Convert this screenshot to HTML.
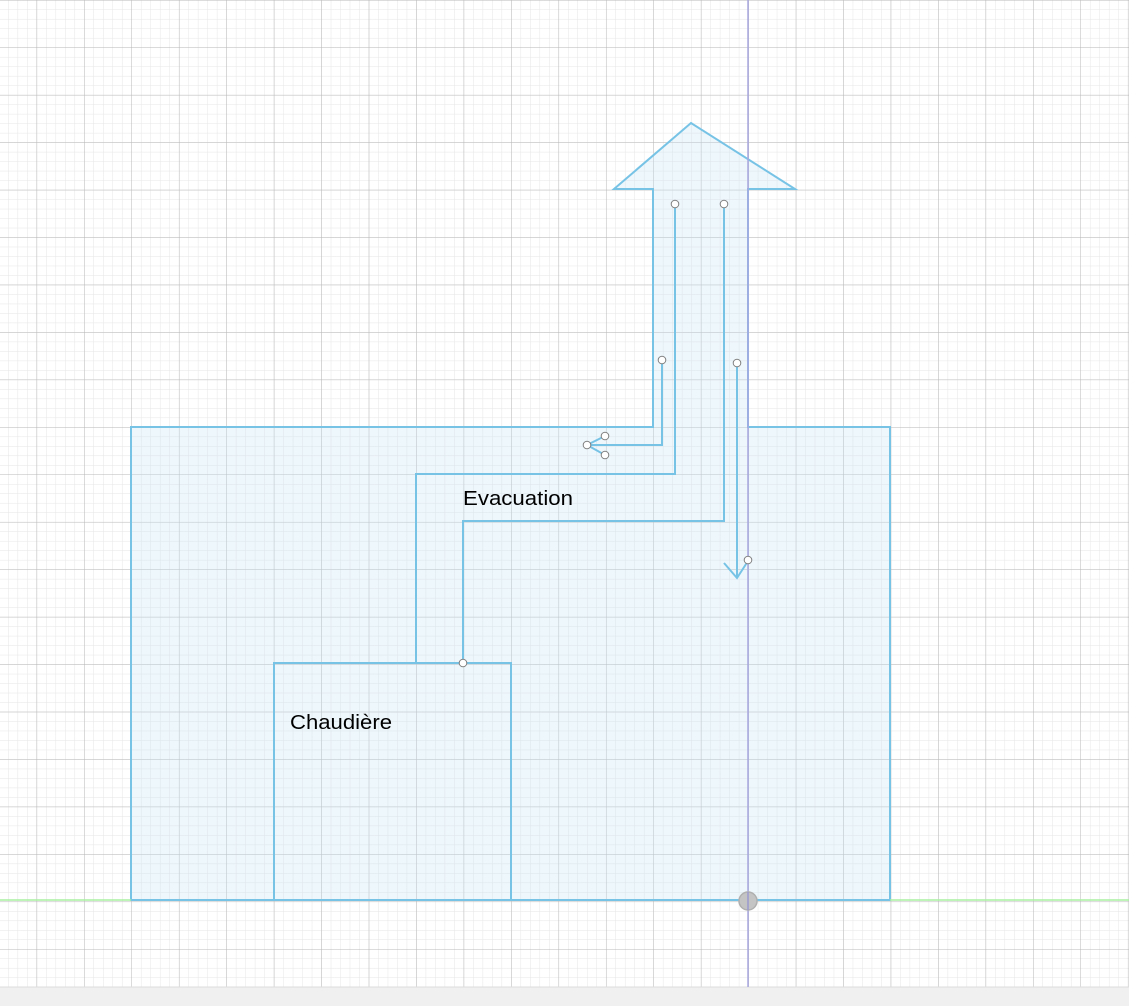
<!DOCTYPE html>
<html><head><meta charset="utf-8"><style>
html,body{margin:0;padding:0;background:#fff;}
svg{display:block;}
</style></head><body>
<svg width="1129" height="1006" viewBox="0 0 1129 1006" xmlns="http://www.w3.org/2000/svg">
<defs>
<pattern id="minor" x="8.1" y="0" width="9.49" height="9.49" patternUnits="userSpaceOnUse">
<path d="M0 0V9.49M0 0H9.49" stroke="#e6e6e6" stroke-width="1" fill="none"/>
</pattern>
<pattern id="major" x="36.6" y="0" width="47.45" height="47.45" patternUnits="userSpaceOnUse">
<path d="M0 0V47.45M0 0H47.45" stroke="#b8b8b8" stroke-width="1" fill="none"/>
</pattern>
</defs>
<rect width="1129" height="987" fill="#fff"/>
<rect width="1129" height="987" fill="url(#minor)"/>
<rect width="1129" height="987" fill="url(#major)"/>
<rect y="987" width="1129" height="19" fill="#f0f0f0"/>
<line x1="0" y1="987" x2="1129" y2="987" stroke="#dcdcdc"/>

<path d="M131 427H653V189H614L691 123L795 189H748V427H890V900H131Z" fill="rgba(200,228,245,0.3)" stroke="#77c3e6" stroke-width="2"/>
<rect x="274" y="663" width="237" height="237" fill="none" stroke="#77c3e6" stroke-width="2"/>

<line x1="0" y1="900" x2="1129" y2="900" stroke="#a8f0a0" stroke-width="1.5"/>
<rect x="131" y="899" width="759" height="2" fill="#77c3e6"/>
<line x1="748" y1="0" x2="748" y2="987" stroke="#a8a8e0" stroke-width="1.5"/>

<g fill="none" stroke="#77c3e6" stroke-width="2">
<path d="M416 663V474H675V204"/>
<path d="M463 663V521H724V204"/>
<path d="M662 360V445H587"/>
<path d="M587 445L605 436M587 445L605 455"/>
<path d="M737 363V578"/>
<path d="M724 563L737 578L748 561"/>
</g>
<g fill="#fff" stroke="#808080" stroke-width="1">
<circle cx="675" cy="204" r="3.8"/>
<circle cx="724" cy="204" r="3.8"/>
<circle cx="662" cy="360" r="3.8"/>
<circle cx="737" cy="363" r="3.8"/>
<circle cx="587" cy="445" r="3.8"/>
<circle cx="605" cy="436" r="3.8"/>
<circle cx="605" cy="455" r="3.8"/>
<circle cx="748" cy="560" r="3.8"/>
<circle cx="463" cy="663" r="3.8"/>
</g>
<circle cx="748" cy="901" r="9" fill="#c4c4c4" stroke="#b0b0b0" stroke-width="1.5"/>
<line x1="748" y1="892" x2="748" y2="910" stroke="#9a9ad0" stroke-width="1.5"/>

<text x="463" y="505" font-family="Liberation Sans, sans-serif" font-size="20" fill="#000" textLength="110" lengthAdjust="spacingAndGlyphs">Evacuation</text>
<text x="290" y="729" font-family="Liberation Sans, sans-serif" font-size="20" fill="#000" textLength="102" lengthAdjust="spacingAndGlyphs">Chaudière</text>
</svg>
</body></html>
